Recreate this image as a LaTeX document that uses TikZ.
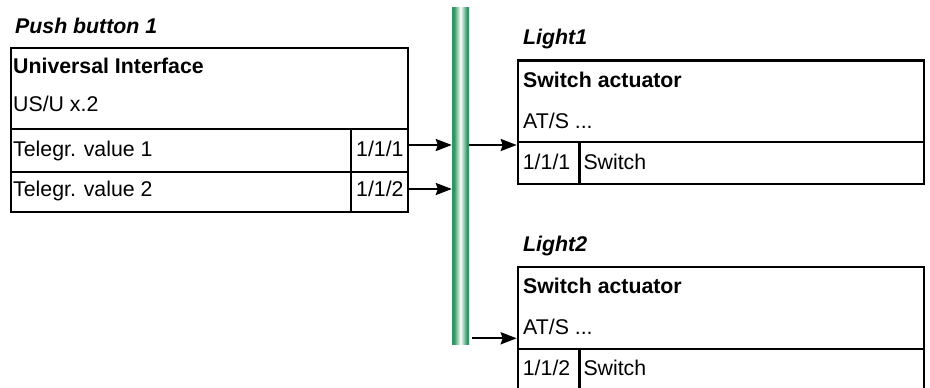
\documentclass[tikz,border=0pt]{standalone}
\usepackage{fontspec}
\setmainfont{Liberation Sans}
\usetikzlibrary{arrows.meta}
\definecolor{busg}{RGB}{50,150,100}
\pgfdeclarehorizontalshading{busshade}{100bp}{color(0bp)=(busg); color(25bp)=(busg); color(31bp)=(busg); color(50bp)=(white); color(69bp)=(busg); color(75bp)=(busg); color(100bp)=(busg)}
\begin{document}
\begin{tikzpicture}[x=1pt,y=-1pt,
  font=\fontsize{21.3}{25}\selectfont,
  box/.style={draw, line width=2.2pt, inner sep=0pt, anchor=north west},
  txt/.style={anchor=base west, inner sep=0pt},
  ttl/.style={txt, font=\fontsize{21.3}{25}\selectfont\bfseries\itshape},
  hd/.style={txt, font=\fontsize{21.3}{25}\selectfont\bfseries},
  busbar/.style={inner sep=0pt, minimum width=17pt, minimum height=337pt, shading=busshade},
  conn/.style={line width=2.2pt, -{Stealth[length=16pt,width=12pt,inset=2pt]}}]
\useasboundingbox (0,0) rectangle (930,388);

% bus
\node[busbar] (bus) at (460.5,175.5) {};

% Push button 1
\node[box, minimum width=397pt, minimum height=81pt] (pb) at (10,46.7) {};
\node[box, minimum width=340pt, minimum height=43pt] (pt1) at (10,127.7) {};
\node[box, minimum width=57pt, minimum height=43pt] (pa1) at (350,127.7) {};
\node[box, minimum width=340pt, minimum height=40pt] (pt2) at (10,170.7) {};
\node[box, minimum width=57pt, minimum height=40pt] (pa2) at (350,170.7) {};
\node[ttl] (t0) at (15,33) {Push button 1};
\node[hd] (t1) at (13,73.3) {Universal Interface};
\node[txt] (t2) at (13,111.5) {US/U x.2};
\node[txt] (t3) at (13,156.5) {Telegr. value 1};
\node[txt] (t4) at (13,196.7) {Telegr. value 2};
\node[txt] (t5) at (356,156.5) {1/1/1};
\node[txt] (t6) at (356,196.7) {1/1/2};

% Light1
\node[box, minimum width=406pt, minimum height=81.4pt] (l1) at (516.7,59.3) {};
\node[box, minimum width=61.6pt, minimum height=42pt] (l1a) at (516.7,140.7) {};
\node[box, minimum width=344.4pt, minimum height=42pt] (l1s) at (578.3,140.7) {};
\node[ttl] (u0) at (523,45) {Light1};
\node[hd] (u1) at (523,87) {Switch actuator};
\node[txt] (u2) at (523,128) {AT/S ...};
\node[txt] (u3) at (522.7,169.5) {1/1/1};
\node[txt] (u4) at (583.3,169.5) {Switch};

% Light2
\node[box, minimum width=406pt, minimum height=81.7pt] (l2) at (516.7,266) {};
\node[box, minimum width=61.6pt, minimum height=42pt] (l2a) at (516.7,347.7) {};
\node[box, minimum width=344.4pt, minimum height=42pt] (l2s) at (578.3,347.7) {};
\node[ttl] (v0) at (523,251.7) {Light2};
\node[hd] (v1) at (523,293.3) {Switch actuator};
\node[txt] (v2) at (523,334.3) {AT/S ...};
\node[txt] (v3) at (522.7,375.7) {1/1/2};
\node[txt] (v4) at (583.3,375.7) {Switch};

% connectors
\coordinate (a1) at (407,145);
\coordinate (a2) at (407,189);
\coordinate (b1) at (469,145);
\coordinate (b2) at (471.7,338.3);
\draw[conn] (a1) -- (a1 -| bus.west);
\draw[conn] (a2) -- (a2 -| bus.west);
\draw[conn] (b1) -- (b1 -| l1a.west);
\draw[conn] (b2) -- (b2 -| l2.west);
\end{tikzpicture}
\end{document}
